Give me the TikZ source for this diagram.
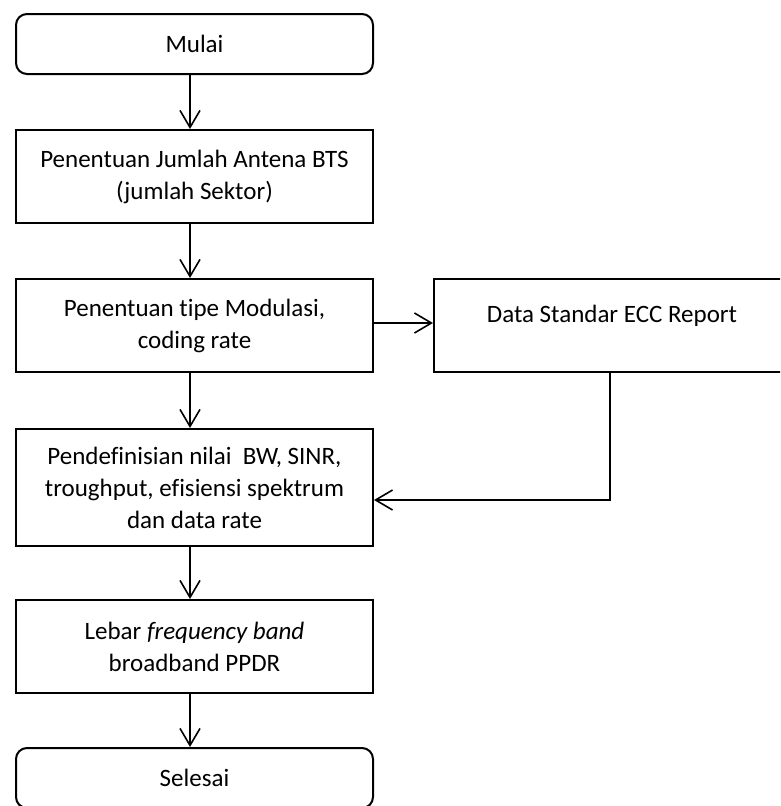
\documentclass[tikz,border=0pt]{standalone}
\usepackage{fontspec}
\setmainfont{Carlito}[Ligatures={NoCommon,NoRequired}]
\usetikzlibrary{arrows.meta}
\begin{document}
\begin{tikzpicture}[x=1pt,y=-1pt,
  box/.style={draw, line width=2pt, minimum width=357pt, align=center, inner sep=0pt,
    font=\fontsize{25}{32}\selectfont},
  term/.style={box, rounded corners=11pt, minimum height=60pt},
  arr/.style={line width=1.6pt, -{Straight Barb[length=17pt,width=20pt,line width=1.6pt]}}]
\useasboundingbox (0,0) rectangle (780,806);
\clip (0,0) rectangle (780,806);
\node[term] (start) at (194.5,44) {Mulai};
\node[box, minimum height=93pt] (b2) at (194.5,176.5) {Penentuan Jumlah Antena BTS\\(jumlah Sektor)};
\node[box, minimum height=93pt] (b3) at (194.5,325.5) {Penentuan tipe Modulasi,\\coding rate};
\node[box, minimum height=93pt, minimum width=380pt] (data) at (624,325.5) {};
\node[font=\fontsize{25}{32}\selectfont, inner sep=0pt] (datatxt) at (612,316) {Data Standar ECC Report};
\node[box, minimum height=117pt] (b4) at (194.5,487.5) {Pendefinisian nilai~ BW, SINR,\\troughput, efisiensi spektrum\\dan data rate};
\node[box, minimum height=93pt] (b5) at (194.5,646.5) {Lebar \textit{frequency band}\\broadband PPDR};
\node[term] (end) at (194.5,778) {Selesai};
\coordinate (ax) at (190,0);
\coordinate (elb) at (610,500);
\draw[arr] (start.south -| ax) -- (b2.north -| ax);
\draw[arr] (b2.south -| ax) -- (b3.north -| ax);
\draw[arr] (b3.south -| ax) -- (b4.north -| ax);
\draw[arr] (b4.south -| ax) -- (b5.north -| ax);
\draw[arr] (b5.south -| ax) -- (end.north -| ax);
\draw[arr] (b3.east |- 0,323) -- (data.west |- 0,323);
\draw[arr] (data.south -| elb) -- (elb) -- (b4.east |- elb);
\end{tikzpicture}
\end{document}
